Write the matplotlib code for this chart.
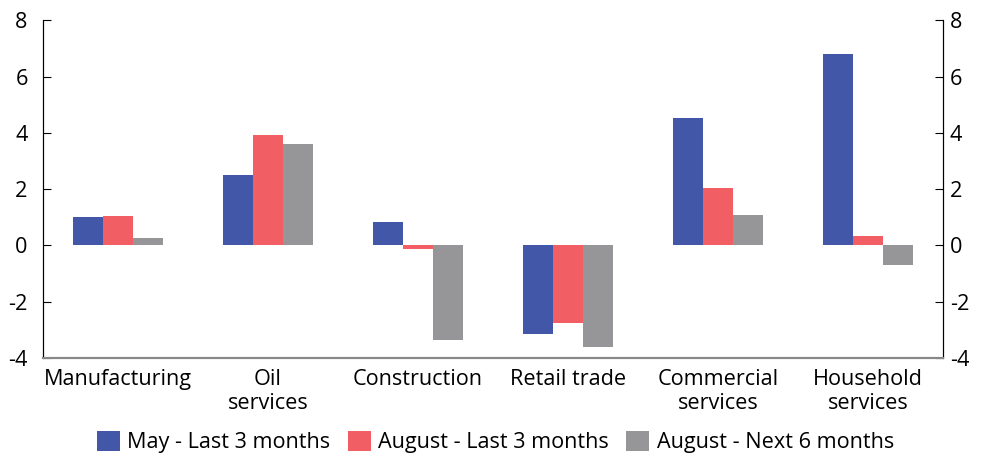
import matplotlib.pyplot as plt
import numpy as np

plt.rcParams['font.family'] = ['Open Sans', 'DejaVu Sans']

# data
categories = ['Manufacturing', 'Oil\nservices', 'Construction', 'Retail trade',
              'Commercial\nservices', 'Household\nservices']
may_last3 = [1.02, 2.50, 0.84, -3.16, 4.53, 6.80]
aug_last3 = [1.05, 3.93, -0.11, -2.77, 2.04, 0.34]
aug_next6 = [0.27, 3.60, -3.35, -3.62, 1.09, -0.69]
series_labels = ['May - Last 3 months', 'August - Last 3 months', 'August - Next 6 months']
y_ticks = [-4, -2, 0, 2, 4, 6, 8]

colors = ['#4257a7', '#f15e63', '#969598']
bar_width = 0.2
fs = 15.6

fig = plt.figure(figsize=(9.81, 4.59), dpi=100)
ax = fig.add_axes([0.0438, 0.22, 0.9175, 0.7358])

x = np.arange(len(categories))
for i, (vals, lab, col) in enumerate(zip([may_last3, aug_last3, aug_next6], series_labels, colors)):
    ax.bar(x + (i - 1) * bar_width, vals, width=bar_width, color=col, label=lab, linewidth=0)

ax.set_xlim(-0.5, len(categories) - 0.5)
ax.set_ylim(-4, 8)
ax.set_yticks(y_ticks)
ax.set_yticklabels([str(t) for t in y_ticks])
ax.set_xticks(x)
ax.set_xticklabels(categories, fontsize=fs, linespacing=1.2)
ax.tick_params(axis='x', length=0, pad=8)
ax.tick_params(axis='y', direction='in', length=6, width=0.8, labelsize=fs, pad=11)

# right axis with its own (tighter) label spacing
ax2 = ax.twinx()
ax2.set_ylim(ax.get_ylim())
ax2.set_yticks(y_ticks)
ax2.set_yticklabels([str(t) for t in y_ticks])
ax2.tick_params(axis='y', direction='in', length=6, width=0.8, labelsize=fs, pad=5)

for a in (ax, ax2):
    a.spines['top'].set_visible(False)
    a.spines['left'].set_linewidth(0.8)
    a.spines['right'].set_linewidth(0.8)
    a.spines['bottom'].set_color('#888888')
    a.spines['bottom'].set_linewidth(1.5)

handles, labels = ax.get_legend_handles_labels()
fig.legend(handles, labels, loc='center', bbox_to_anchor=(0.505, 0.037), ncol=3, frameon=False,
           fontsize=fs, handlelength=1.05, handleheight=1.1, handletextpad=0.35,
           columnspacing=0.8)

fig.savefig('out.png', dpi=100)
